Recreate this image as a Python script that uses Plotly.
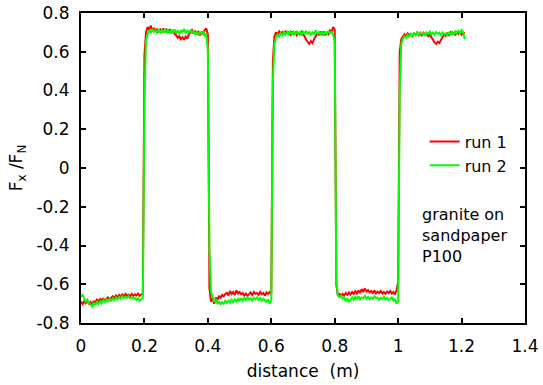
import numpy as np
import plotly.graph_objects as go

# sampling grid of distance (m): 0 .. 1.21 in 0.005 steps (243 samples)
distance = np.round(np.arange(243) * 0.005, 4)

run1 = [
    # 0.000 - 0.195 (low)
    -0.690, -0.702, -0.688, -0.698, -0.685, -0.700, -0.692, -0.712, -0.686, -0.695,
    -0.680, -0.688, -0.676, -0.684, -0.672, -0.690, -0.675, -0.668, -0.680, -0.670,
    -0.662, -0.672, -0.658, -0.668, -0.655, -0.664, -0.652, -0.662, -0.650, -0.660,
    -0.654, -0.662, -0.650, -0.660, -0.652, -0.658, -0.648, -0.660, -0.652, -0.650,
    0.580,
    # 0.205 - 0.400 (high)
    0.700, 0.728, 0.712, 0.735, 0.708, 0.722, 0.705, 0.718, 0.700, 0.715,
    0.704, 0.720, 0.702, 0.714, 0.698, 0.716, 0.700, 0.708, 0.692,
    0.685, 0.672, 0.680, 0.665, 0.675, 0.662, 0.678, 0.668, 0.690, 0.700,
    0.712, 0.695, 0.708, 0.690, 0.702, 0.685, 0.700, 0.692, 0.712, 0.720, 0.688,
    # 0.405 - 0.600 (low)
    -0.620, -0.690, -0.672, -0.700, -0.668, -0.682, -0.660, -0.670, -0.655, -0.662,
    -0.650, -0.645, -0.658, -0.635, -0.650, -0.640, -0.655, -0.632, -0.648, -0.640,
    -0.652, -0.645, -0.658, -0.648, -0.660, -0.650, -0.642, -0.655, -0.640, -0.650,
    -0.645, -0.655, -0.640, -0.652, -0.645, -0.658, -0.642, -0.650, -0.640, -0.648,
    0.550,
    # 0.610 - 0.800 (high)
    0.680, 0.700, 0.688, 0.705, 0.695, 0.702, 0.690, 0.708, 0.695,
    0.700, 0.688, 0.705, 0.692, 0.700, 0.685, 0.698, 0.690, 0.702, 0.688,
    0.680, 0.662, 0.650, 0.640, 0.655, 0.645, 0.665, 0.680, 0.695, 0.688,
    0.700, 0.690, 0.705, 0.685, 0.698, 0.690, 0.710, 0.700, 0.728, 0.715,
    # 0.805 - 1.000 (low)
    -0.600, -0.660, -0.648, -0.665, -0.650, -0.658, -0.645, -0.655, -0.642, -0.652,
    -0.640, -0.650, -0.636, -0.648, -0.632, -0.645, -0.625, -0.640, -0.622, -0.638,
    -0.630, -0.642, -0.635, -0.645, -0.632, -0.648, -0.638, -0.645, -0.635, -0.648,
    -0.640, -0.650, -0.638, -0.645, -0.635, -0.648, -0.640, -0.652, -0.630, -0.590,
    0.600,
    # 1.010 - 1.210 (high)
    0.665, 0.680, 0.690, 0.678, 0.695, 0.685, 0.692, 0.680, 0.695,
    0.688, 0.700, 0.685, 0.695, 0.682, 0.698, 0.688, 0.692, 0.680, 0.690,
    0.675, 0.660, 0.648, 0.640, 0.652, 0.645, 0.662, 0.680, 0.690, 0.682,
    0.695, 0.685, 0.700, 0.690, 0.698, 0.685, 0.702, 0.692, 0.705, 0.688, 0.700, 0.695,
]

run2 = [
    # 0.000 - 0.195 (low)
    -0.665, -0.655, -0.672, -0.690, -0.680, -0.698, -0.705, -0.715, -0.695, -0.708,
    -0.692, -0.702, -0.688, -0.698, -0.682, -0.692, -0.680, -0.688, -0.676, -0.685,
    -0.672, -0.682, -0.668, -0.678, -0.665, -0.675, -0.662, -0.672, -0.665, -0.670,
    -0.662, -0.672, -0.668, -0.675, -0.670, -0.680, -0.672, -0.685, -0.678, -0.668,
    0.350,
    # 0.205 - 0.400 (high)
    0.660, 0.690, 0.712, 0.698, 0.718, 0.702, 0.712, 0.695, 0.715, 0.700,
    0.712, 0.698, 0.718, 0.702, 0.710, 0.695, 0.712, 0.700, 0.715,
    0.698, 0.708, 0.692, 0.712, 0.700, 0.718, 0.695, 0.710, 0.700, 0.712,
    0.695, 0.708, 0.690, 0.702, 0.688, 0.700, 0.692, 0.705, 0.685, 0.695, 0.610,
    # 0.405 - 0.600 (low)
    -0.420, -0.640, -0.662, -0.690, -0.675, -0.702, -0.688, -0.705, -0.692, -0.700,
    -0.685, -0.698, -0.682, -0.695, -0.680, -0.692, -0.678, -0.690, -0.675, -0.688,
    -0.672, -0.685, -0.670, -0.682, -0.668, -0.680, -0.672, -0.685, -0.670, -0.678,
    -0.668, -0.680, -0.672, -0.685, -0.675, -0.682, -0.690, -0.678, -0.700, -0.685,
    0.450,
    # 0.610 - 0.800 (high)
    0.640, 0.672, 0.688, 0.678, 0.695, 0.685, 0.700, 0.688, 0.702,
    0.692, 0.705, 0.690, 0.702, 0.688, 0.708, 0.692, 0.700, 0.688, 0.705,
    0.695, 0.708, 0.690, 0.702, 0.688, 0.700, 0.692, 0.710, 0.695, 0.702,
    0.690, 0.705, 0.688, 0.700, 0.692, 0.708, 0.695, 0.702, 0.690, 0.650,
    # 0.805 - 1.000 (low)
    -0.580, -0.655, -0.668, -0.660, -0.675, -0.665, -0.688, -0.672, -0.692, -0.678,
    -0.668, -0.680, -0.665, -0.675, -0.662, -0.678, -0.668, -0.672, -0.660, -0.675,
    -0.665, -0.678, -0.668, -0.675, -0.662, -0.672, -0.668, -0.680, -0.670, -0.676,
    -0.665, -0.678, -0.670, -0.682, -0.672, -0.668, -0.685, -0.675, -0.700, -0.690,
    0.400,
    # 1.010 - 1.210 (high)
    0.640, 0.668, 0.680, 0.672, 0.688, 0.678, 0.692, 0.682, 0.695,
    0.685, 0.698, 0.688, 0.700, 0.690, 0.695, 0.685, 0.700, 0.692, 0.705,
    0.690, 0.700, 0.688, 0.702, 0.692, 0.698, 0.686, 0.700, 0.690, 0.695,
    0.685, 0.698, 0.690, 0.702, 0.688, 0.705, 0.695, 0.708, 0.698, 0.712, 0.700, 0.665,
]

x_ticks = [0, 0.2, 0.4, 0.6, 0.8, 1.0, 1.2, 1.4]
x_labels = ["0", "0.2", "0.4", "0.6", "0.8", "1", "1.2", "1.4"]
y_ticks = [-0.8, -0.6, -0.4, -0.2, 0, 0.2, 0.4, 0.6, 0.8]
y_labels = ["-0.8", "-0.6", "-0.4", "-0.2", "0", "0.2", "0.4", "0.6", "0.8"]

FONT = "DejaVu Sans, sans-serif"

fig = go.Figure()
fig.add_trace(go.Scatter(x=distance, y=run1, mode="lines", name="run 1",
                         line=dict(color="#ff0000", width=2)))
fig.add_trace(go.Scatter(x=distance, y=run2, mode="lines", name="run 2",
                         line=dict(color="#00ff00", width=2)))

axis_common = dict(showline=True, linecolor="black", linewidth=2, mirror="ticks",
                   ticks="inside", ticklen=5, tickwidth=2, tickcolor="black",
                   showgrid=False, zeroline=False, automargin=False,
                   tickfont=dict(family=FONT, size=17, color="black"))

fig.update_xaxes(range=[0, 1.4], tickvals=x_ticks, ticktext=x_labels,
                 ticklabelstandoff=7,
                 title=dict(text="distance\u00a0 (m)", font=dict(family=FONT, size=17, color="black"),
                            standoff=10),
                 **axis_common)
fig.update_yaxes(range=[-0.8, 0.8], tickvals=y_ticks, ticktext=y_labels,
                 ticklabelstandoff=6,
                 title=dict(text="F<sub>x</sub> /F<sub>N</sub>", font=dict(family=FONT, size=17, color="black"),
                            standoff=9),
                 **axis_common)

fig.add_annotation(xref="paper", yref="paper", x=0.764, y=0.388, xanchor="left", yanchor="top",
                   align="left", showarrow=False,
                   text="granite on<br>sandpaper<br>P100",
                   font=dict(family=FONT, size=16, color="black"))

fig.update_layout(
    width=543, height=385,
    margin=dict(l=81, r=18, t=13, b=62, autoexpand=False),
    paper_bgcolor="white", plot_bgcolor="white",
    showlegend=True,
    legend=dict(x=0.774, y=0.640, xanchor="left", yanchor="top",
                bgcolor="rgba(0,0,0,0)", borderwidth=0,
                font=dict(family=FONT, size=16, color="black"),
                tracegroupgap=0, itemwidth=30),
)

fig.write_html("out.html")
